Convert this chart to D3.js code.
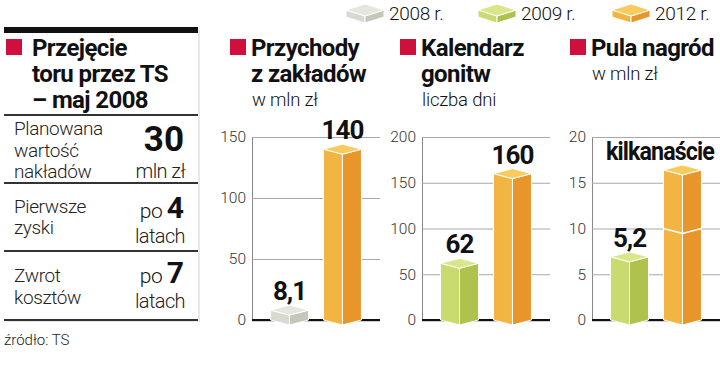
<!DOCTYPE html>
<html><head><meta charset="utf-8">
<script src="https://cdn.jsdelivr.net/npm/d3@7"></script>
<style>
body{margin:0;background:#fff;}
svg{display:block;}
text{font-family:Roboto,"Open Sans",sans-serif;}
</style></head>
<body>
<svg id="c" width="720" height="370"></svg>
<script>
// ---- data ----
const legendYears = ["2008 r.", "2009 r.", "2012 r."];
const revenueYears = ["2008 r.", "2012 r."];
const revenueValues = [8.1, 140];
const revenueLabels = ["8,1", "140"];
const revenueTicks = [0, 50, 100, 150];

const calendarYears = ["2009 r.", "2012 r."];
const calendarValues = [62, 160];
const calendarLabels = ["62", "160"];
const calendarTicks = [0, 50, 100, 150, 200];

const prizeYears = ["2009 r.", "2012 r."];
const prizeValues = [6.9, 16.4];
const prizeLabels = ["5,2", "kilkanaście"];
const prizeTicks = [0, 5, 10, 15, 20];
const prizeSplit = 10;

const boxTitle = ["Przejęcie", "toru przez TS", "– maj 2008"];
const boxRows = [
  {label: ["Planowana", "wartość", "nakładów"], big: "30", pre: "", unit: "mln zł"},
  {label: ["Pierwsze", "zyski"], big: "4", pre: "po", unit: "latach"},
  {label: ["Zwrot", "kosztów"], big: "7", pre: "po", unit: "latach"}
];
const source = "źródło: TS";

const colors = {
  "2008 r.": {top: "#e6e6de", left: "#d8d9d0", right: "#c5c7bd"},
  "2009 r.": {top: "#dbe68a", left: "#c9da6e", right: "#afc24b"},
  "2012 r.": {top: "#f9ca5e", left: "#f3b542", right: "#e8962b"}
};
const red = "#cf0f3c";

const svg = d3.select("#c");

// ---- left box ----
const bx0 = 4, bx1 = 198;
svg.append("rect").attr("x", bx0 + 2).attr("y", 30).attr("width", bx1 - bx0).attr("height", 292).attr("fill", "#e8e8e8");
svg.append("rect").attr("x", bx0).attr("y", 28).attr("width", bx1 - bx0).attr("height", 292).attr("fill", "#fff");
svg.append("rect").attr("x", bx0).attr("y", 27).attr("width", bx1 - bx0).attr("height", 6).attr("fill", "#111");
svg.append("rect").attr("x", 6).attr("y", 39).attr("width", 16).attr("height", 16).attr("fill", red);
boxTitle.forEach((t, i) => {
  svg.append("text").attr("x", 32).attr("y", 56 + i * 26).text(t)
    .attr("font-size", 24).attr("font-weight", 700).attr("fill", "#111").attr("letter-spacing", -0.6);
});
const lineYs = [115, 183, 251, 320];
lineYs.forEach(y => svg.append("rect").attr("x", bx0).attr("y", y - 1).attr("width", bx1 - bx0).attr("height", 2).attr("fill", "#333"));

const rowLabelY = [[135, 157, 178], [213, 234], [282, 304]];
const rowBigY = [151, 218, 283];
const rowUnitY = [178, 243, 308];
boxRows.forEach((r, i) => {
  r.label.forEach((l, j) => {
    svg.append("text").attr("x", 14).attr("y", rowLabelY[i][j]).text(l)
      .attr("font-size", 19).attr("font-weight", 300).attr("fill", "#222").attr("letter-spacing", -0.4);
  });
  const t = svg.append("text").attr("x", 184).attr("y", rowBigY[i]).attr("text-anchor", "end").attr("fill", "#111");
  if (r.pre) t.append("tspan").text(r.pre + " ").attr("font-size", 21).attr("font-weight", 300).attr("letter-spacing", -0.5);
  t.append("tspan").text(r.big).attr("font-size", i === 0 ? 35 : 30).attr("font-weight", 700);
  svg.append("text").attr("x", 185).attr("y", rowUnitY[i]).attr("text-anchor", "end").text(r.unit)
    .attr("font-size", 20).attr("font-weight", 300).attr("fill", "#222").attr("letter-spacing", -0.6);
});
svg.append("text").attr("x", 4).attr("y", 345).text(source).attr("font-size", 15).attr("font-weight", 300).attr("fill", "#222");

// ---- legend ----
const legendX = [346, 478, 612];
function prism(g, x0, x1, yTop, base, d, c) {
  const cx = (x0 + x1) / 2;
  const pts = a => a.map(p => p.join(",")).join(" ");
  g.append("polygon").attr("points", pts([[x0, yTop], [cx, yTop + d], [cx, base + d], [x0, base]])).attr("fill", c.left).attr("stroke", "#fff").attr("stroke-width", 1);
  g.append("polygon").attr("points", pts([[cx, yTop + d], [x1, yTop], [x1, base], [cx, base + d]])).attr("fill", c.right).attr("stroke", "#fff").attr("stroke-width", 1);
  g.append("polygon").attr("points", pts([[x0, yTop], [cx, yTop - d], [x1, yTop], [cx, yTop + d]])).attr("fill", c.top).attr("stroke", "#fff").attr("stroke-width", 1);
}
legendYears.forEach((yr, i) => {
  const g = svg.append("g");
  prism(g, legendX[i], legendX[i] + 38, 10, 17, 6, colors[yr]);
  svg.append("text").attr("x", legendX[i] + 43).attr("y", 20).text(yr)
    .attr("font-size", 19).attr("font-weight", 300).attr("fill", "#111").attr("letter-spacing", -0.3);
});

// ---- panels ----
const panels = [
  {axisX: 252, title: ["Przychody", "z zakładów"], sub: "w mln zł", years: revenueYears, values: revenueValues, labels: revenueLabels, ticks: revenueTicks},
  {axisX: 422, title: ["Kalendarz", "gonitw"], sub: "liczba dni", years: calendarYears, values: calendarValues, labels: calendarLabels, ticks: calendarTicks},
  {axisX: 592, title: ["Pula nagród"], sub: "w mln zł", years: prizeYears, values: prizeValues, labels: prizeLabels, ticks: prizeTicks, split: prizeSplit}
];
const yBase = 320, yTopPx = 137, panelW = 128;

panels.forEach(p => {
  const g = svg.append("g");
  // title
  g.append("rect").attr("x", p.axisX - 22).attr("y", 39).attr("width", 16).attr("height", 16).attr("fill", red);
  p.title.forEach((t, i) => g.append("text").attr("x", p.axisX - 1).attr("y", 56 + i * 26).text(t)
    .attr("font-size", 24).attr("font-weight", 700).attr("fill", "#111").attr("letter-spacing", -0.6));
  g.append("text").attr("x", p.axisX).attr("y", 56 + p.title.length * 26 - 2).text(p.sub)
    .attr("font-size", 18.5).attr("font-weight", 300).attr("fill", "#111").attr("letter-spacing", -0.2);

  const y = d3.scaleLinear().domain([0, d3.max(p.ticks)]).range([yBase, yTopPx]);
  const x = d3.scaleBand().domain(p.years).range([p.axisX, p.axisX + panelW]).paddingInner(0.283).paddingOuter(0.35);

  // gridlines + tick labels via axis
  const ax = d3.axisLeft(y).tickValues(p.ticks).tickSize(-panelW).tickPadding(6);
  const axg = g.append("g").attr("transform", `translate(${p.axisX},0)`).call(ax);
  axg.select(".domain").attr("stroke", "#888").attr("stroke-width", 1);
  axg.selectAll(".tick line").attr("stroke", "#a8a8a8").attr("stroke-width", 1);
  axg.selectAll(".tick text").attr("font-family", "Roboto").attr("font-size", 15.5).attr("font-weight", 300).attr("fill", "#333");
  // baseline
  g.append("rect").attr("x", p.axisX).attr("y", yBase - 1).attr("width", panelW).attr("height", 2.2).attr("fill", "#111");

  p.years.forEach((yr, i) => {
    const x0 = x(yr), x1 = x0 + x.bandwidth(), cx = (x0 + x1) / 2;
    const yt = y(p.values[i]);
    prism(g, x0, x1, yt, yBase, 5, colors[yr]);
    if (p.split !== undefined && p.values[i] > p.split) {
      const ys = y(p.split);
      g.append("polyline").attr("points", `${x0},${ys} ${cx},${ys + 5} ${x1},${ys}`).attr("fill", "none").attr("stroke", "#fff").attr("stroke-width", 1.5);
    }
    const lt = g.append("text").attr("x", 0).attr("y", 0).attr("text-anchor", "middle").text(p.labels[i])
      .attr("font-size", 26).attr("font-weight", 700).attr("fill", "#111").attr("letter-spacing", -1);
    const w = lt.node().getComputedTextLength();
    let tx = cx, sx = 1;
    if (w > 60) { sx = 108 / w; tx = Math.min(cx, 714 - 54); }
    lt.attr("transform", `translate(${tx},${yt - 10}) scale(${sx},1)`);
  });
});
</script>
</body></html>
